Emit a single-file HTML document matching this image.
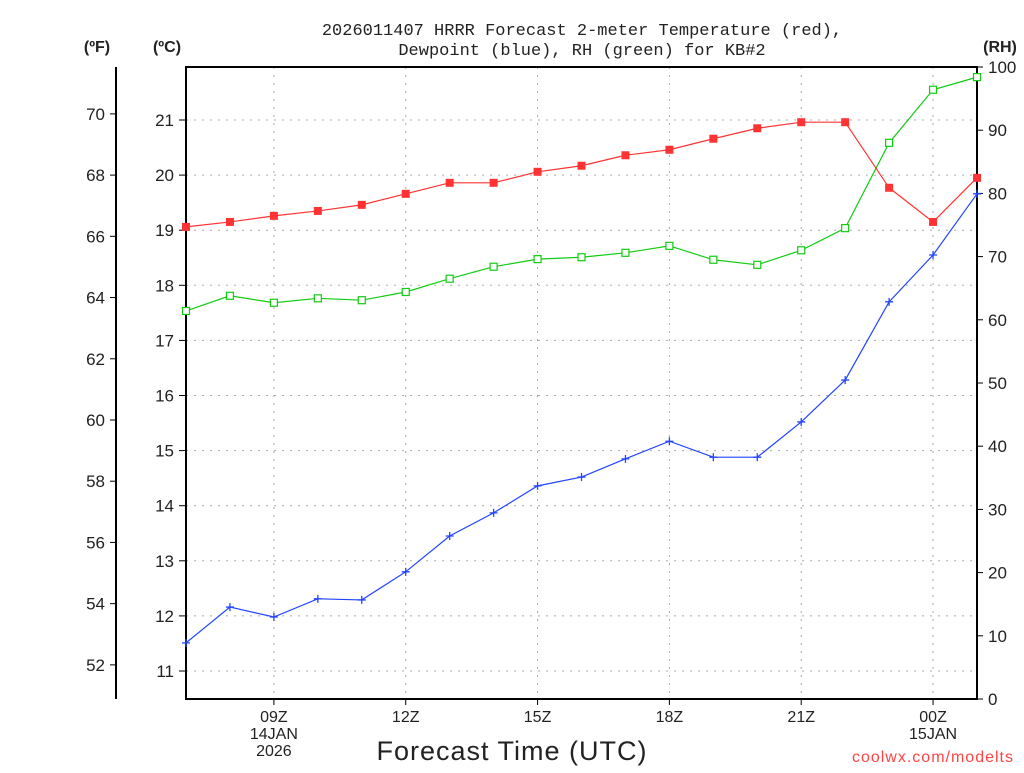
<!DOCTYPE html>
<html><head><meta charset="utf-8"><style>
body{margin:0;background:#fff}
svg text{font-family:"Liberation Sans",sans-serif;fill:#222}
</style></head><body>
<svg id="chart" width="1024" height="768" xmlns="http://www.w3.org/2000/svg">
<text x="582" y="35" font-size="17" text-anchor="middle" style="font-family:'Liberation Mono',monospace">2026011407 HRRR Forecast 2-meter Temperature (red),</text>
<text x="582" y="55" font-size="17" text-anchor="middle" style="font-family:'Liberation Mono',monospace">Dewpoint (blue), RH (green) for KB#2</text>
<text x="97" y="52" font-size="16" font-weight="bold" text-anchor="middle">(ºF)</text>
<text x="167" y="52" font-size="16" font-weight="bold" text-anchor="middle">(ºC)</text>
<text x="1000" y="52" font-size="16" font-weight="bold" text-anchor="middle">(RH)</text>
<text x="512" y="760" font-size="27" text-anchor="middle" style="letter-spacing:1px">Forecast Time (UTC)</text>
<text x="1014" y="762" font-size="16" text-anchor="end" style="fill:#f44;letter-spacing:1px">coolwx.com/modelts</text>
<g id="g"></g>
</svg>
<script>
const hours=['07','08','09','10','11','12','13','14','15','16','17','18','19','20','21','22','23','00','01'];
const tempC=[19.06,19.15,19.26,19.35,19.46,19.66,19.86,19.86,20.06,20.17,20.36,20.46,20.66,20.85,20.96,20.96,19.77,19.15,19.95];
const dewC=[11.51,12.16,11.98,12.31,12.29,12.80,13.45,13.87,14.36,14.52,14.85,15.17,14.88,14.88,15.52,16.28,17.70,18.55,19.66];
const rh=[61.4,63.8,62.7,63.4,63.1,64.4,66.5,68.4,69.6,69.9,70.6,71.7,69.5,68.7,71.0,74.5,88.0,96.4,98.4];
const cTicks=[11,12,13,14,15,16,17,18,19,20,21];
const fTicks=[52,54,56,58,60,62,64,66,68,70];
const rhTicks=[0,10,20,30,40,50,60,70,80,90,100];
const xLabels=[{i:2,l:['09Z','14JAN','2026']},{i:5,l:['12Z']},{i:8,l:['15Z']},{i:11,l:['18Z']},{i:14,l:['21Z']},{i:17,l:['00Z','15JAN']}];
const L=186,R=977,T=67,B=699;
const x=i=>L+i*(R-L)/(hours.length-1);
const yC=c=>120+(21-c)*55.1;
const yF=f=>yC((f-32)/1.8);
const yR=r=>B-r*(B-T)/100;
const g=document.getElementById('g');const NS='http://www.w3.org/2000/svg';
function el(t,a,txt){const e=document.createElementNS(NS,t);for(const k in a)e.setAttribute(k,a[k]);if(txt!=null)e.textContent=txt;g.appendChild(e);return e;}
cTicks.forEach(c=>{const y=yC(c);
const gl=el('line',{x1:L,x2:R,y1:y,y2:y,stroke:'#aaa','stroke-dasharray':'2,6'});

const tk=el('line',{x1:L-7,x2:L,y1:y,y2:y,stroke:'#000'});
const t=el('text',{x:L-12,y:y+6,'font-size':17,'text-anchor':'end'},c);
});
fTicks.forEach(f=>{const y=yF(f);
const tk=el('line',{x1:110,x2:116,y1:y,y2:y,stroke:'#000'});
const t=el('text',{x:105,y:y+6,'font-size':17,'text-anchor':'end'},f);
});
rhTicks.forEach(r=>{const y=yR(r);
const tk=el('line',{x1:R,x2:R+6,y1:y,y2:y,stroke:'#000'});
const t=el('text',{x:R+11,y:y+6,'font-size':17},r);
});
xLabels.forEach(o=>{const xx=x(o.i);
const gl=el('line',{x1:xx,x2:xx,y1:T,y2:B,stroke:'#aaa','stroke-dasharray':'2,6'});
const tk=el('line',{x1:xx,x2:xx,y1:B,y2:B+6,stroke:'#000'});
o.l.forEach((s,k)=>{const t=el('text',{x:xx,y:722+k*17,'font-size':16,'text-anchor':'middle'},s);
});});
const fa=el('line',{x1:116,x2:116,y1:T,y2:B,stroke:'#000','stroke-width':2});
const fr=el('rect',{x:L,y:T,width:R-L,height:B-T,fill:'none',stroke:'#000','stroke-width':2});
function series(vals,yf,col,name,mk){
const p=el('polyline',{points:vals.map((v,i)=>x(i)+','+yf(v)).join(' '),fill:'none',stroke:col,'stroke-width':1.2});

vals.forEach((v,i)=>{const cx=x(i),cy=yf(v);let m;
if(mk==='fill')m=el('rect',{x:cx-4,y:cy-4,width:8,height:8,fill:col});
else if(mk==='open')m=el('rect',{x:cx-3.5,y:cy-3.5,width:7,height:7,fill:'#fff',stroke:col,'stroke-width':1.2});
else m=el('path',{d:`M${cx-4},${cy}H${cx+4}M${cx},${cy-4}V${cy+4}`,stroke:col,'stroke-width':1.3});
});}
series(rh,yR,'#1c1','rh','open');
series(tempC,yC,'#f33','temperature','fill');
series(dewC,yC,'#24f','dewpoint','plus');
</script>
</body></html>
